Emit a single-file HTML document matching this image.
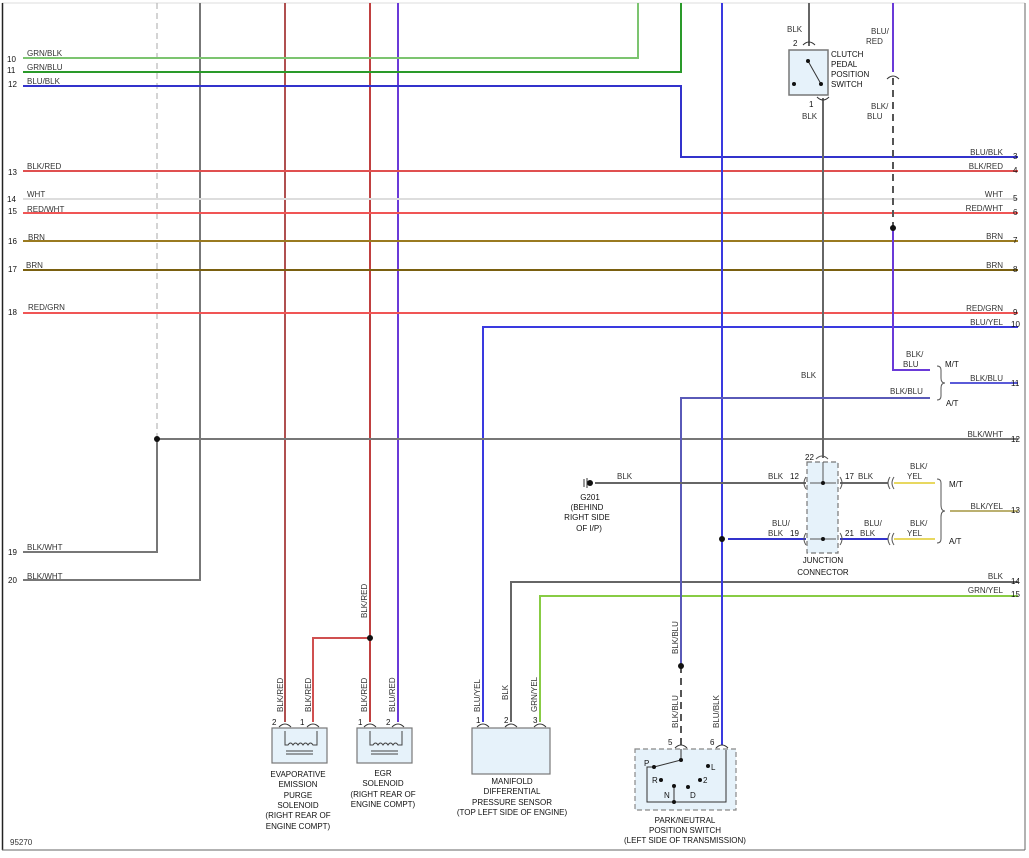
<!DOCTYPE html>
<html><head><meta charset="utf-8"><style>
body{margin:0;background:#fff}
svg{display:block}
text{font-family:"Liberation Sans",sans-serif;font-size:8px;fill:#333}
.n{fill:#111}
.c{text-anchor:middle;fill:#111}
.e{text-anchor:end}
</style></head><body>
<svg width="1029" height="858" viewBox="0 0 1029 858" xmlns="http://www.w3.org/2000/svg">
<rect x="0" y="0" width="1029" height="858" fill="#fff"/>
<line x1="2" y1="3" x2="1025" y2="3" stroke="#ddd" stroke-width="1"/>
<line x1="2.5" y1="3" x2="2.5" y2="850" stroke="#222" stroke-width="1.5"/>
<line x1="2" y1="850" x2="1025" y2="850" stroke="#666" stroke-width="1"/>
<line x1="1025" y1="3" x2="1025" y2="850" stroke="#666" stroke-width="1"/>
<g fill="none" stroke-width="2">
<!-- verticals from top -->
<line x1="157" y1="3" x2="157" y2="439" stroke="#aaa" stroke-width="1" stroke-dasharray="6,4"/>
<polyline points="157,439 157,552 23,552" stroke="#777"/>
<polyline points="200,3 200,580 23,580" stroke="#777"/>
<line x1="285" y1="3" x2="285" y2="722" stroke="#b05050"/>
<line x1="370" y1="3" x2="370" y2="722" stroke="#c04040"/>
<polyline points="370,638 313,638 313,722" stroke="#d05050"/>
<line x1="398" y1="3" x2="398" y2="722" stroke="#6a3ad8"/>
<!-- horizontals -->
<polyline points="23,58 638,58 638,3" stroke="#7cc470"/>
<polyline points="23,72 681,72 681,3" stroke="#2a9a2a"/>
<polyline points="23,86 681,86 681,157 1018,157" stroke="#3333cc"/>
<line x1="23" y1="171" x2="1018" y2="171" stroke="#e05050"/>
<line x1="23" y1="199" x2="1018" y2="199" stroke="#ddd"/>
<line x1="23" y1="213" x2="1018" y2="213" stroke="#f05555"/>
<line x1="23" y1="241" x2="1018" y2="241" stroke="#9a7a20"/>
<line x1="23" y1="270" x2="1018" y2="270" stroke="#7a6010"/>
<line x1="23" y1="313" x2="1018" y2="313" stroke="#f05555"/>
<polyline points="1018,327 483,327 483,722" stroke="#3a3ae0"/>
<line x1="157" y1="439" x2="1018" y2="439" stroke="#777"/>
<polyline points="1018,582 511,582 511,722" stroke="#666"/>
<polyline points="1018,596 540,596 540,722" stroke="#88cc44"/>
<line x1="722" y1="3" x2="722" y2="745" stroke="#3a3ae0"/>
<!-- clutch -->
<line x1="809" y1="3" x2="809" y2="46" stroke="#666"/>
<line x1="823" y1="98" x2="823" y2="458" stroke="#666"/>
<line x1="893" y1="3" x2="893" y2="72" stroke="#6a3ad8"/>
<line x1="893" y1="78" x2="893" y2="228" stroke="#555" stroke-dasharray="7,5"/>
<polyline points="893,228 893,370 930,370" stroke="#6a3ad8"/>
<polyline points="930,398 681,398 681,666" stroke="#5a5ab8"/>
<line x1="681" y1="666" x2="681" y2="745" stroke="#555" stroke-dasharray="7,5"/>
<line x1="950" y1="383" x2="1018" y2="383" stroke="#5a5ad8"/>
<!-- junction lines -->
<line x1="595" y1="483" x2="806" y2="483" stroke="#666"/>
<line x1="840" y1="483" x2="888" y2="483" stroke="#666"/>
<line x1="894" y1="483" x2="935" y2="483" stroke="#e8d860"/>
<line x1="728" y1="539" x2="806" y2="539" stroke="#3333cc"/>
<line x1="840" y1="539" x2="888" y2="539" stroke="#3333cc"/>
<line x1="894" y1="539" x2="935" y2="539" stroke="#e8d860"/>
<line x1="950" y1="511" x2="1018" y2="511" stroke="#bbb070"/>
</g>
<!-- braces -->
<path d="M937,366 q4,0 4,4 v8 q0,5 4,5 q-4,0 -4,5 v8 q0,4 -4,4" fill="none" stroke="#555" stroke-width="1"/>
<path d="M937,479 q4,0 4,4 v22 q0,6 4,6 q-4,0 -4,6 v22 q0,4 -4,4" fill="none" stroke="#555" stroke-width="1"/>
<!-- dots -->
<g fill="#111">
<circle cx="157" cy="439" r="3"/><circle cx="370" cy="638" r="3"/><circle cx="893" cy="228" r="3"/>
<circle cx="722" cy="539" r="3"/><circle cx="681" cy="666" r="3"/><circle cx="590" cy="483" r="3"/>
</g>
<!-- clutch switch -->
<rect x="789" y="50" width="39" height="45" fill="#e6f2fa" stroke="#777" stroke-width="1.5"/>
<path d="M803,45 q6,-6 12,0 M817,97 q6,6 12,0 M887,79 q6,-6 12,0" fill="none" stroke="#333" stroke-width="1"/>
<line x1="808" y1="61" x2="821" y2="84" stroke="#333"/>
<g fill="#111"><circle cx="808" cy="61" r="2"/><circle cx="821" cy="84" r="2"/><circle cx="794" cy="84" r="2"/></g>
<text x="831" y="57" class="n">CLUTCH</text><text x="831" y="67" class="n">PEDAL</text><text x="831" y="77" class="n">POSITION</text><text x="831" y="87" class="n">SWITCH</text>
<text x="787" y="32">BLK</text><text x="793" y="46" class="n">2</text><text x="809" y="107" class="n">1</text><text x="802" y="119">BLK</text>
<text x="871" y="34">BLU/</text><text x="866" y="44">RED</text><text x="871" y="109">BLK/</text><text x="867" y="119">BLU</text>
<!-- junction connector -->
<rect x="807" y="462" width="31" height="91" fill="#e6f2fa" stroke="#777" stroke-width="1.2" stroke-dasharray="5,3"/>
<g stroke="#555" stroke-width="1" fill="none">
<path d="M816,459 q6,-6 12,0"/>
<line x1="823" y1="462" x2="823" y2="483"/><line x1="810" y1="483" x2="836" y2="483"/><line x1="810" y1="539" x2="836" y2="539"/>
<path d="M806,477 q-4,6 0,12 M840,477 q4,6 0,12 M806,533 q-4,6 0,12 M840,533 q4,6 0,12 M890,477 q-4,6 0,12 M894,477 q-4,6 0,12 M890,533 q-4,6 0,12 M894,533 q-4,6 0,12"/>
</g>
<circle cx="823" cy="483" r="2" fill="#111"/><circle cx="823" cy="539" r="2" fill="#111"/>
<text x="805" y="460" class="n">22</text><text x="790" y="479" class="n">12</text><text x="845" y="479" class="n">17</text>
<text x="790" y="536" class="n">19</text><text x="845" y="536" class="n">21</text>
<text x="768" y="479">BLK</text><text x="858" y="479">BLK</text><text x="910" y="469">BLK/</text><text x="907" y="479">YEL</text>
<text x="772" y="526">BLU/</text><text x="768" y="536">BLK</text><text x="864" y="526">BLU/</text><text x="860" y="536">BLK</text>
<text x="910" y="526">BLK/</text><text x="907" y="536">YEL</text>
<text x="949" y="487" class="n">M/T</text><text x="949" y="544" class="n">A/T</text>
<text x="823" y="563" class="c">JUNCTION</text><text x="823" y="575" class="c">CONNECTOR</text>
<text x="617" y="479">BLK</text>
<text x="590" y="500" class="c">G201</text><text x="587" y="510" class="c">(BEHIND</text><text x="587" y="520" class="c">RIGHT SIDE</text><text x="589" y="531" class="c">OF I/P)</text>
<text x="801" y="378">BLK</text><text x="906" y="357">BLK/</text><text x="903" y="367">BLU</text><text x="890" y="394">BLK/BLU</text>
<text x="945" y="367" class="n">M/T</text><text x="946" y="406" class="n">A/T</text>
<!-- right labels -->
<g class="e">
<text x="1003" y="155" class="e">BLU/BLK</text><text x="1003" y="169" class="e">BLK/RED</text><text x="1003" y="197" class="e">WHT</text>
<text x="1003" y="211" class="e">RED/WHT</text><text x="1003" y="239" class="e">BRN</text><text x="1003" y="268" class="e">BRN</text>
<text x="1003" y="311" class="e">RED/GRN</text><text x="1003" y="325" class="e">BLU/YEL</text><text x="1003" y="381" class="e">BLK/BLU</text>
<text x="1003" y="437" class="e">BLK/WHT</text><text x="1003" y="509" class="e">BLK/YEL</text><text x="1003" y="579" class="e">BLK</text><text x="1003" y="593" class="e">GRN/YEL</text>
</g>
<g class="n">
<text x="1013" y="159" class="n">3</text><text x="1013" y="173" class="n">4</text><text x="1013" y="201" class="n">5</text><text x="1013" y="215" class="n">6</text>
<text x="1013" y="243" class="n">7</text><text x="1013" y="272" class="n">8</text><text x="1013" y="315" class="n">9</text><text x="1011" y="327" class="n">10</text>
<text x="1011" y="386" class="n">11</text><text x="1011" y="442" class="n">12</text><text x="1011" y="513" class="n">13</text>
<text x="1011" y="584" class="n">14</text><text x="1011" y="597" class="n">15</text>
</g>
<!-- left labels -->
<text x="7" y="62" class="n">10</text><text x="7" y="73" class="n">11</text><text x="8" y="87" class="n">12</text>
<text x="8" y="175" class="n">13</text><text x="7" y="202" class="n">14</text><text x="8" y="214" class="n">15</text>
<text x="8" y="244" class="n">16</text><text x="8" y="272" class="n">17</text><text x="8" y="315" class="n">18</text>
<text x="8" y="555" class="n">19</text><text x="8" y="583" class="n">20</text>
<text x="27" y="56">GRN/BLK</text><text x="27" y="70">GRN/BLU</text><text x="27" y="84">BLU/BLK</text>
<text x="27" y="169">BLK/RED</text><text x="27" y="197">WHT</text><text x="27" y="212">RED/WHT</text>
<text x="28" y="240">BRN</text><text x="26" y="268">BRN</text><text x="28" y="310">RED/GRN</text>
<text x="27" y="550">BLK/WHT</text><text x="27" y="579">BLK/WHT</text>
<text x="10" y="845">95270</text>
<!-- vertical labels -->
<g>
<text transform="translate(367,618) rotate(-90)">BLK/RED</text>
<text transform="translate(283,712) rotate(-90)">BLK/RED</text><text transform="translate(311,712) rotate(-90)">BLK/RED</text>
<text transform="translate(367,712) rotate(-90)">BLK/RED</text><text transform="translate(395,712) rotate(-90)">BLU/RED</text>
<text transform="translate(480,712) rotate(-90)">BLU/YEL</text><text transform="translate(508,700) rotate(-90)">BLK</text>
<text transform="translate(537,712) rotate(-90)">GRN/YEL</text>
<text transform="translate(678,654) rotate(-90)">BLK/BLU</text><text transform="translate(678,728) rotate(-90)">BLK/BLU</text>
<text transform="translate(719,728) rotate(-90)">BLU/BLK</text>
</g>
<!-- solenoids -->
<g stroke="#333" stroke-width="1" fill="none">
<path d="M279,727 q6,-6 12,0 M307,727 q6,-6 12,0 M364,727 q6,-6 12,0 M392,727 q6,-6 12,0 M477,727 q6,-6 12,0 M505,727 q6,-6 12,0 M534,727 q6,-6 12,0 M675,748 q6,-6 12,0 M716,748 q6,-6 12,0"/>
</g>
<rect x="272" y="728" width="55" height="35" fill="#e6f2fa" stroke="#777" stroke-width="1.2"/>
<rect x="357" y="728" width="55" height="35" fill="#e6f2fa" stroke="#777" stroke-width="1.2"/>
<rect x="472" y="728" width="78" height="46" fill="#e6f2fa" stroke="#777" stroke-width="1.2"/>
<g stroke="#444" stroke-width="1" fill="none">
<path d="M285,731 v14 h3 q2.5,-4 5,0 q2.5,-4 5,0 q2.5,-4 5,0 q2.5,-4 5,0 q2.5,-4 5,0 h4 v-14"/>
<line x1="286" y1="751" x2="313" y2="751"/><line x1="286" y1="754" x2="313" y2="754"/>
<path d="M370,731 v14 h3 q2.5,-4 5,0 q2.5,-4 5,0 q2.5,-4 5,0 q2.5,-4 5,0 q2.5,-4 5,0 h4 v-14"/>
<line x1="371" y1="751" x2="398" y2="751"/><line x1="371" y1="754" x2="398" y2="754"/>
</g>
<text x="272" y="725" class="n">2</text><text x="300" y="725" class="n">1</text><text x="358" y="725" class="n">1</text><text x="386" y="725" class="n">2</text>
<text x="476" y="723" class="n">1</text><text x="504" y="723" class="n">2</text><text x="533" y="723" class="n">3</text>
<text x="668" y="745" class="n">5</text><text x="710" y="745" class="n">6</text>
<g class="c">
<text x="298" y="777" class="c">EVAPORATIVE</text><text x="298" y="787" class="c">EMISSION</text><text x="298" y="798" class="c">PURGE</text>
<text x="298" y="808" class="c">SOLENOID</text><text x="298" y="818" class="c">(RIGHT REAR OF</text><text x="298" y="829" class="c">ENGINE COMPT)</text>
<text x="383" y="776" class="c">EGR</text><text x="383" y="786" class="c">SOLENOID</text><text x="383" y="797" class="c">(RIGHT REAR OF</text><text x="383" y="807" class="c">ENGINE COMPT)</text>
<text x="512" y="784" class="c">MANIFOLD</text><text x="512" y="794" class="c">DIFFERENTIAL</text><text x="512" y="805" class="c">PRESSURE SENSOR</text><text x="512" y="815" class="c">(TOP LEFT SIDE OF ENGINE)</text>
<text x="685" y="823" class="c">PARK/NEUTRAL</text><text x="685" y="833" class="c">POSITION SWITCH</text><text x="685" y="843" class="c">(LEFT SIDE OF TRANSMISSION)</text>
</g>
<!-- park neutral switch -->
<rect x="635" y="749" width="101" height="61" fill="#e6f2fa" stroke="#888" stroke-width="1.2" stroke-dasharray="5,3"/>
<g stroke="#333" stroke-width="1" fill="none">
<polyline points="681,749 681,760 654,767 647,767 647,802 726,802 726,750"/>
<line x1="674" y1="786" x2="674" y2="802"/>
</g>
<g fill="#111"><circle cx="681" cy="760" r="2"/><circle cx="654" cy="767" r="2"/><circle cx="708" cy="766" r="2"/>
<circle cx="661" cy="780" r="2"/><circle cx="700" cy="780" r="2"/><circle cx="674" cy="786" r="2"/><circle cx="688" cy="787" r="2"/><circle cx="674" cy="802" r="2"/></g>
<text x="644" y="766" class="n">P</text><text x="711" y="770" class="n">L</text><text x="652" y="783" class="n">R</text>
<text x="703" y="783" class="n">2</text><text x="664" y="798" class="n">N</text><text x="690" y="798" class="n">D</text>
<!-- ground symbol -->
<line x1="584" y1="479" x2="584" y2="487" stroke="#333"/><line x1="587" y1="478" x2="587" y2="488" stroke="#333"/>
</svg>
</body></html>
